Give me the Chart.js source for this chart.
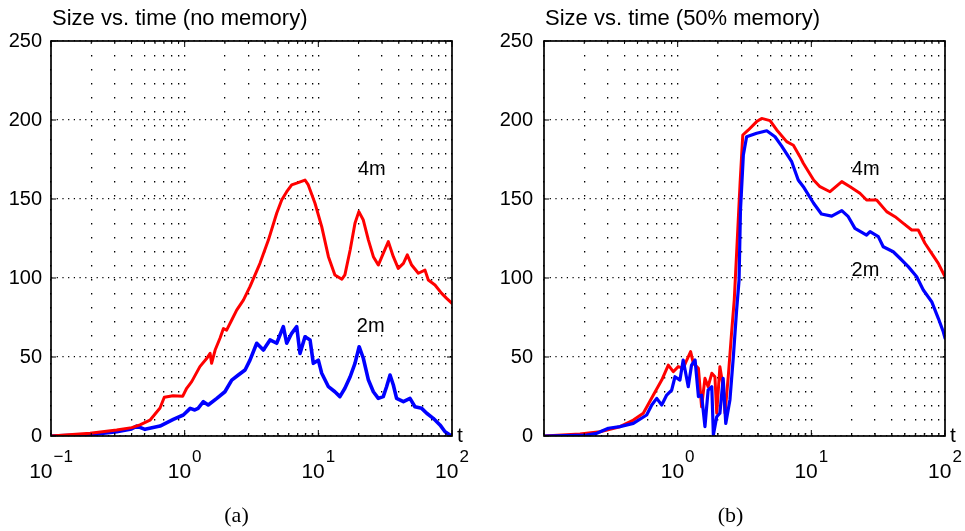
<!DOCTYPE html>
<html>
<head>
<meta charset="utf-8">
<script src="https://cdn.jsdelivr.net/npm/chart.js@4.4.0/dist/chart.umd.min.js"></script>
<style>
  body { margin: 0; background: #fff; }
  #wrap { position: relative; width: 965px; height: 531px; }
  canvas { position: absolute; top: 0; }
  #left { left: 0; }
  #right { left: 483px; }
</style>
</head>
<body>
<div id="wrap">
  <canvas id="left" width="482" height="531"></canvas>
  <canvas id="right" width="482" height="531"></canvas>
</div>
<script>
const fontSans = '"Liberation Sans", Arial, Helvetica, sans-serif';
const fontSerif = '"Liberation Serif", "DejaVu Serif", serif';

// grid positions on the log time axis, and size ticks
const xGrid = [0.1, 0.2, 0.3, 0.4, 0.5, 0.6, 0.7, 0.8, 0.9,
               1, 2, 3, 4, 5, 6, 7, 8, 9,
               10, 20, 30, 40, 50, 60, 70, 80, 90, 100];
const decades = [0.1, 1, 10, 100];
const yTicks = [0, 50, 100, 150, 200, 250];

// (a) no memory
const noMemT4 = [0.1, 0.196, 0.31, 0.402, 0.463, 0.55, 0.654, 0.704, 0.818, 0.966,
  1.035, 1.129, 1.3, 1.46, 1.55, 1.59, 1.69, 1.84, 1.95, 2.06,
  2.25, 2.45, 2.75, 3.08, 3.66, 4.23, 4.88, 5.32, 5.8, 6.32,
  6.89, 7.95, 8.41, 9.44, 10.6, 11.9, 13.3, 15.0, 15.8, 17.3,
  18.8, 20.1, 21.7, 23.7, 25.8, 28.1, 30.6, 33.4, 36.4, 39.6,
  43.3, 46.3, 49.9, 56.0, 62.8, 66.5, 74.6, 83.7, 91.2, 100];
const noMemS4 = [0, 1.7, 3.8, 5.3, 7, 10, 17.7, 24.5, 25.5, 25.1,
  30.2, 34.4, 43.9, 49, 52.3, 46, 54.4, 62, 68, 67,
  73.4, 79.7, 86, 94.5, 109.3, 124, 141, 149.4, 154.6, 158.9,
  160, 162, 158.9, 147.3, 132.5, 113.5, 101.9, 99.2, 102, 117.7,
  134.6, 142, 136.7, 124, 113.5, 108.2, 115.6, 123, 113.5, 106.1,
  109.3, 114.6, 108.2, 103, 105, 98.7, 95.6, 90.3, 87.1, 84];

const noMemT2 = [0.1, 0.196, 0.31, 0.4, 0.438, 0.505, 0.654, 0.822, 0.977, 1.1,
  1.19, 1.26, 1.38, 1.5, 1.74, 2.0, 2.25, 2.52, 2.83, 3.08,
  3.46, 3.88, 4.35, 4.88, 5.47, 5.8, 6.32, 6.89, 7.29, 7.95,
  8.67, 9.17, 10.0, 10.6, 11.9, 13.3, 14.5, 15.8, 17.3, 18.8,
  20.2, 21.7, 23.7, 25.8, 28.1, 30.6, 32.4, 34.4, 36.4, 38.5,
  43.3, 48.5, 52.8, 59.3, 64.7, 72.4, 81.3, 88.7, 96.6, 100];
const noMemS2 = [0, 0.8, 2.7, 4.5, 6.3, 4.2, 6.3, 10.5, 13.3, 17.5,
  16.5, 17.5, 21.7, 19.6, 23.8, 28, 35.4, 38.6, 41.8, 48,
  58.7, 54.4, 60.8, 58.7, 69.2, 58.7, 65, 69.2, 52.3, 62.8,
  60.8, 46, 48, 39.7, 31.2, 28, 24.9, 30.2, 37.5, 46,
  56.5, 49.2, 35.4, 28, 23.8, 24.9, 31.2, 38.6, 32.3, 23.8,
  21.7, 23.8, 18.5, 17.5, 14.4, 11.2, 7, 2.7, 0.6, 0];

// (b) 50% memory
const memT4 = [0.1, 0.186, 0.262, 0.37, 0.466, 0.553, 0.658, 0.76, 0.851, 0.927,
  1.01, 1.1, 1.17, 1.25, 1.31, 1.43, 1.51, 1.6, 1.69, 1.8,
  1.9, 1.96, 2.07, 2.19, 2.26, 2.39, 2.54, 2.65, 2.76, 2.93,
  3.07, 3.38, 3.9, 4.25, 4.91, 5.51, 6.54, 7.34, 8.22, 8.71,
  10.4, 11.6, 13.8, 16.9, 19.5, 23.1, 25.9, 30.8, 36.6, 42.3,
  48.8, 56.4, 63.1, 70.8, 79.5, 89.1, 97.1, 100];
const memS4 = [0, 1.3, 2.7, 5.9, 10.1, 14.4, 25.9, 35.4, 44.9, 40.7,
  43.9, 42.8, 48.1, 53.4, 46, 42.8, 18.5, 36.5, 31.2, 39.7,
  37.5, 14.4, 43.9, 31.2, 14.4, 37.5, 67, 86, 115.6, 160,
  190.5, 193.7, 199, 201, 199.6, 193.7, 186.3, 184, 176.8, 172.6,
  162, 157.8, 154.6, 161, 157.8, 153.6, 149.4, 149.4, 142, 138.8,
  134.6, 130.4, 130.4, 122, 115.6, 109.3, 103, 101];

const memT2 = [0.1, 0.208, 0.248, 0.303, 0.37, 0.466, 0.586, 0.64, 0.697, 0.76,
  0.828, 0.902, 0.955, 1.04, 1.1, 1.2, 1.27, 1.35, 1.43, 1.51,
  1.6, 1.69, 1.8, 1.85, 1.96, 2.07, 2.19, 2.29, 2.46, 2.61,
  2.76, 2.88, 2.95, 3.1, 3.28, 3.9, 4.64, 5.35, 6.0, 7.13,
  7.98, 8.71, 10.4, 11.9, 14.2, 16.9, 18.9, 21.2, 25.9, 27.5,
  31.7, 34.5, 41.0, 46.0, 53.1, 61.4, 68.8, 79.5, 89.1, 97.1, 100];
const memS2 = [0, 0.6, 1.7, 4.9, 5.9, 8, 13.3, 19.6, 23.8, 19.6,
  25.9, 29.1, 37.5, 35.4, 48.1, 31.2, 44.9, 48.1, 24.9, 25.9,
  5.9, 29.1, 31.2, 0.6, 12.2, 14.4, 36.5, 8, 22.8, 50.2,
  79.7, 98.7, 143, 177.8, 189.4, 191.6, 193.2, 189.4, 183.5, 173.6,
  162, 157.8, 147.3, 140.5, 139.2, 142.6, 138.8, 131.4, 127.2, 129.3,
  126.2, 119.8, 116.6, 112.5, 107.2, 100.8, 92.4, 85, 74.5, 66, 62];

const decorPlugin = {
  id: 'decor',
  afterDraw(chart, args, o) {
    const { ctx, chartArea: a, scales: { x, y } } = chart;
    ctx.save();
    ctx.strokeStyle = '#000';
    ctx.fillStyle = '#000';

    // tick marks inside the box
    ctx.lineWidth = 1;
    ctx.beginPath();
    yTicks.forEach(v => {
      const py = y.getPixelForValue(v);
      ctx.moveTo(a.left, py); ctx.lineTo(a.left + 5, py);
      ctx.moveTo(a.right, py); ctx.lineTo(a.right - 5, py);
    });
    xGrid.forEach(v => {
      const px = x.getPixelForValue(v);
      const len = decades.includes(v) ? 6 : 3;
      ctx.moveTo(px, a.bottom); ctx.lineTo(px, a.bottom - len);
      ctx.moveTo(px, a.top); ctx.lineTo(px, a.top + len);
    });
    ctx.stroke();

    // box
    ctx.lineWidth = 1.7;
    ctx.strokeRect(a.left, a.top, a.right - a.left, a.bottom - a.top);

    // 10^n labels
    ctx.textBaseline = 'alphabetic';
    ctx.textAlign = 'left';
    o.exponents.forEach(e => {
      const px = x.getPixelForValue(Math.pow(10, e));
      const sup = e < 0 ? '\u2212' + (-e) : String(e);
      ctx.font = '21px ' + fontSans;
      const w1 = ctx.measureText('10').width;
      ctx.font = '17px ' + fontSans;
      const w2 = ctx.measureText(sup).width;
      const start = px - (w1 + w2 + 1) / 2;
      ctx.font = '21px ' + fontSans;
      ctx.fillText('10', start, 478);
      ctx.font = '17px ' + fontSans;
      ctx.fillText(sup, start + w1 + 1, 462);
    });

    // axis name
    ctx.font = '21px ' + fontSans;
    ctx.textBaseline = 'middle';
    ctx.fillText('t', a.right + 5, a.bottom);

    // title
    ctx.textBaseline = 'alphabetic';
    ctx.font = '22px ' + fontSans;
    ctx.fillText(o.title, a.left + 1, 25);

    // curve labels
    ctx.font = '20px ' + fontSans;
    o.notes.forEach(n => {
      ctx.fillText(n.text, x.getPixelForValue(n.t), y.getPixelForValue(n.s));
    });

    // sub caption
    ctx.font = '22px ' + fontSerif;
    ctx.textAlign = 'center';
    ctx.fillText(o.caption, o.captionX, 522);
    ctx.restore();
  }
};

function makeChart(id, o) {
  const red = {
    data: o.t4.map((t, i) => ({ x: t, y: o.s4[i] })),
    borderColor: '#ff0000', borderWidth: 3
  };
  const blue = {
    data: o.t2.map((t, i) => ({ x: t, y: o.s2[i] })),
    borderColor: '#0000ff', borderWidth: o.blueWidth
  };
  const sets = (o.blueOnTop ? [blue, red] : [red, blue]).map(d => Object.assign(d, {
    showLine: true, pointRadius: 0, tension: 0, borderJoinStyle: 'round', borderCapStyle: 'round'
  }));

  return new Chart(document.getElementById(id), {
    type: 'scatter',
    data: { datasets: sets },
    options: {
      responsive: false,
      animation: false,
      devicePixelRatio: 1,
      layout: { padding: { top: 41, right: o.padRight, left: 0, bottom: 0 } },
      plugins: {
        legend: { display: false },
        tooltip: { enabled: false },
        decor: o.decor
      },
      scales: {
        x: {
          type: 'logarithmic',
          min: 0.1,
          max: 100,
          afterBuildTicks: s => { s.ticks = xGrid.map(v => ({ value: v })); },
          afterFit: s => { s.height = 95; },
          ticks: { display: false },
          grid: { color: '#000', lineWidth: 1.3, drawTicks: false },
          border: { display: false, dash: [1.5, 12.5] }
        },
        y: {
          min: 0,
          max: 250,
          afterFit: s => { s.width = o.yWidth; },
          ticks: {
            stepSize: 50,
            color: '#000',
            padding: o.yPad,
            font: { family: fontSans, size: 20 }
          },
          grid: { color: '#000', lineWidth: 1.2, drawTicks: false },
          border: { display: false, dash: [1.2, 4.5] }
        }
      }
    },
    plugins: [decorPlugin]
  });
}

makeChart('left', {
  t4: noMemT4, s4: noMemS4, t2: noMemT2, s2: noMemS2,
  blueOnTop: false, blueWidth: 3.6, padRight: 30, yWidth: 51, yPad: 9,
  decor: {
    title: 'Size vs. time (no memory)',
    exponents: [-1, 0, 1, 2],
    notes: [{ text: '4m', t: 19.8, s: 165 }, { text: '2m', t: 19.4, s: 66 }],
    caption: '(a)', captionX: 236.5
  }
});

makeChart('right', {
  t4: memT4, s4: memS4, t2: memT2, s2: memS2,
  blueOnTop: true, blueWidth: 3.2, padRight: 20, yWidth: 61, yPad: 11,
  decor: {
    title: 'Size vs. time (50% memory)',
    exponents: [0, 1, 2],
    notes: [{ text: '4m', t: 20.1, s: 165 }, { text: '2m', t: 20, s: 101 }],
    caption: '(b)', captionX: 247.5
  }
});
</script>
</body>
</html>
